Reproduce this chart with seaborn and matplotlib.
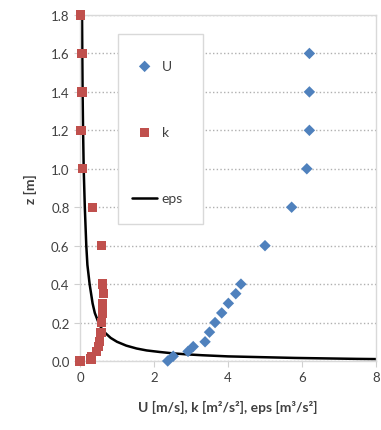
import numpy as np
import pandas as pd
import matplotlib
matplotlib.use('Agg')
import matplotlib.pyplot as plt
from matplotlib.patches import Rectangle
import seaborn as sns

sns.set_style('white')
plt.rcParams['font.family'] = ['Lato', 'DejaVu Sans']

# data
z_u = [0.0, 0.025, 0.05, 0.075, 0.1, 0.15, 0.2, 0.25, 0.3, 0.35, 0.4, 0.6, 0.8, 1.0, 1.2, 1.4, 1.6]
u_vals = [2.37, 2.52, 2.92, 3.06, 3.38, 3.5, 3.65, 3.83, 4.01, 4.21, 4.35, 5.0, 5.72, 6.13, 6.2, 6.2, 6.2]

z_k = [0.0, 0.01, 0.025, 0.05, 0.075, 0.1, 0.15, 0.2, 0.25, 0.3, 0.35, 0.4, 0.6, 0.8, 1.0, 1.2, 1.4, 1.6, 1.8]
k_vals = [0.0, 0.3, 0.32, 0.45, 0.5, 0.52, 0.57, 0.59, 0.6, 0.6, 0.63, 0.6, 0.59, 0.33, 0.07, 0.03, 0.05, 0.05, 0.02]

z_eps = [1.8, 1.6, 1.4, 1.2, 1.0, 0.8, 0.6, 0.5, 0.4, 0.3, 0.25, 0.2, 0.17, 0.15, 0.12,
         0.1, 0.08, 0.065, 0.055, 0.047, 0.04, 0.035, 0.03, 0.024, 0.02, 0.016, 0.013, 0.011, 0.0095]
eps_vals = [0.055, 0.062, 0.07, 0.083, 0.1, 0.13, 0.17, 0.2, 0.26, 0.34, 0.4, 0.5, 0.58, 0.66, 0.83,
            1.0, 1.25, 1.53, 1.8, 2.15, 2.5, 2.85, 3.3, 4.0, 4.9, 5.8, 6.8, 7.5, 8.2]

df_u = pd.DataFrame({'x': u_vals, 'z': z_u})
df_k = pd.DataFrame({'x': k_vals, 'z': z_k})
df_e = pd.DataFrame({'x': eps_vals, 'z': z_eps})

fig = plt.figure(figsize=(3.81, 4.31), dpi=100)
ax = fig.add_axes([80/381, 1-362/431, 296/381, 346/431])

sns.lineplot(data=df_e, x='x', y='z', sort=False, color='black', linewidth=1.8,
             ax=ax, label='eps', zorder=2)
sns.scatterplot(data=df_k, x='x', y='z', marker='s', color='#C0504D', s=45,
                edgecolor='none', ax=ax, label='k', zorder=3, clip_on=False)
sns.scatterplot(data=df_u, x='x', y='z', marker='D', color='#4F81BD', s=34,
                edgecolor='none', ax=ax, label='U', zorder=3, clip_on=False)

ax.set_xlim(0, 8)
ax.set_ylim(0, 1.8)
ax.set_xticks([0, 2, 4, 6, 8])
ax.set_yticks(np.arange(0, 1.81, 0.2))
ax.set_yticklabels([f'{v:.1f}' for v in np.arange(0, 1.81, 0.2)])
ax.yaxis.grid(True, linestyle=':', color='#b0b0b0', linewidth=1)
ax.xaxis.grid(False)
ax.set_axisbelow(True)
for sp in ax.spines.values():
    sp.set_color('#d9d9d9')
    sp.set_linewidth(1)
ax.tick_params(axis='both', labelsize=9.5, colors='#d0d0d0', labelcolor='#404040',
               length=4, direction='out', bottom=True, left=True)
ax.set_xlabel('U [m/s], k [m²/s²], eps [m³/s²]', fontsize=10, fontweight='bold',
              color='#404040', labelpad=12)
ax.set_ylabel('z [m]', fontsize=10, fontweight='bold', color='#404040', labelpad=10)

h, l = ax.get_legend_handles_labels()
order = [l.index('U'), l.index('k'), l.index('eps')]
leg = ax.legend([h[i] for i in order], [l[i] for i in order], loc='upper left',
                bbox_to_anchor=(0.128, 0.91), borderaxespad=0, frameon=False,
                labelspacing=3.9, borderpad=1.0,
                handlelength=1.85, handletextpad=0.3, fontsize=10)
leg.set_zorder(6)
for t in leg.get_texts():
    t.set_color('#404040')

# legend box with extra room above and below the entries (Excel style)
fig.canvas.draw()
bb = leg.get_window_extent().transformed(ax.transAxes.inverted())
pad_top = 12 / 346
pad_bot = 6 / 346
pad_r = 6 / 296
ax.add_patch(Rectangle((bb.x0, bb.y0 - pad_bot), bb.width + pad_r, bb.height + pad_top + pad_bot,
                       transform=ax.transAxes, facecolor='white', edgecolor='#d9d9d9',
                       linewidth=1, zorder=5, clip_on=False))

fig.savefig('out.png', dpi=100)
